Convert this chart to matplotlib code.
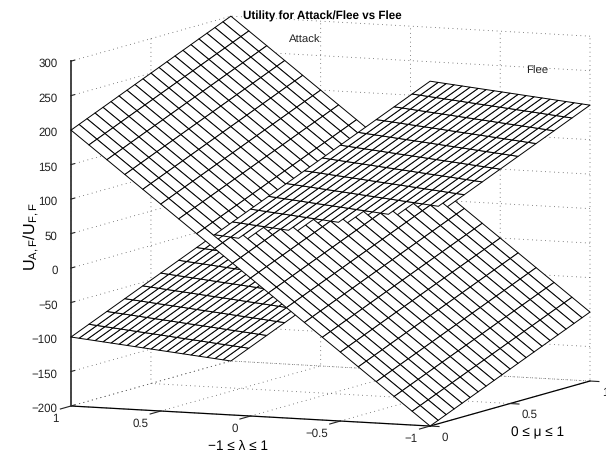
import numpy as np
import matplotlib
matplotlib.use("Agg")
import matplotlib.pyplot as plt
from matplotlib.transforms import Affine2D
from mpl_toolkits.mplot3d import proj3d
from mpl_toolkits.mplot3d.art3d import Poly3DCollection

plt.rcParams['font.family'] = ['Liberation Sans', 'DejaVu Sans']
plt.rcParams['mathtext.fontset'] = 'custom'
plt.rcParams['mathtext.rm'] = 'Liberation Sans'
plt.rcParams['mathtext.default'] = 'regular'
plt.rcParams['text.hinting'] = 'none'

# Data
lam = [-1.0, -0.9, -0.8, -0.7, -0.6, -0.5, -0.4, -0.3, -0.2, -0.1, 0.0,
       0.1, 0.2, 0.3, 0.4, 0.5, 0.6, 0.7, 0.8, 0.9, 1.0]
mu = [0.0, 0.05, 0.1, 0.15, 0.2, 0.25, 0.3, 0.35, 0.4, 0.45, 0.5,
      0.55, 0.6, 0.65, 0.7, 0.75, 0.8, 0.85, 0.9, 0.95, 1.0]
attack_at_mu0 = [-200, -180, -160, -140, -120, -100, -80, -60, -40, -20, 0,
                 20, 40, 60, 80, 100, 120, 140, 160, 180, 200]
attack_rise_mu = [0, 5, 10, 15, 20, 25, 30, 35, 40, 45, 50,
                  55, 60, 65, 70, 75, 80, 85, 90, 95, 100]
flee_at_mu0 = [300, 280, 260, 240, 220, 200, 180, 160, 140, 120, 100,
               80, 60, 40, 20, 0, -20, -40, -60, -80, -100]
flee_rise_mu = [0, -5, -10, -15, -20, -25, -30, -35, -40, -45, -50,
                -55, -60, -65, -70, -75, -80, -85, -90, -95, -100]
x_ticks = [-1, -0.5, 0, 0.5, 1]
x_labels = ['\u22121', '\u22120.5', '0', '0.5', '1']
y_ticks = [0, 0.5, 1]
y_labels = ['0', '0.5', '1']
z_ticks = [-200, -150, -100, -50, 0, 50, 100, 150, 200, 250, 300]
z_labels = ['\u2212200', '\u2212150', '\u2212100', '\u221250', '0', '50',
            '100', '150', '200', '250', '300']


def quads(lams, mus, at_mu0, rise):
    z = np.add.outer(np.asarray(at_mu0, float), np.asarray(rise, float))
    out = []
    for i in range(len(lams) - 1):
        for j in range(len(mus) - 1):
            out.append([(lams[i], mus[j], z[i, j]),
                        (lams[i + 1], mus[j], z[i + 1, j]),
                        (lams[i + 1], mus[j + 1], z[i + 1, j + 1]),
                        (lams[i], mus[j + 1], z[i, j + 1])])
    return out


W, H = 606, 456
fig = plt.figure(figsize=(W / 100, H / 100), dpi=100)
ax = fig.add_axes([0, 0, 1, 1], projection='3d', proj_type='ortho')
ax.view_init(elev=7.2, azim=-66)
aspect = (393, 393, 347.5)

polys = quads(lam, mu, attack_at_mu0, attack_rise_mu) + \
    quads(lam, mu, flee_at_mu0, flee_rise_mu)
mesh = Poly3DCollection(polys, facecolors='white', edgecolors='black',
                        linewidths=0.7, zsort='average')
mesh.set_clip_on(False)
ax.add_collection3d(mesh, autolim=False)

ax.set_xlim(1, -1)
ax.set_ylim(0, 1)
ax.set_zlim(-200, 300)
ax.set_xticks(x_ticks, x_labels)
ax.set_yticks(y_ticks, y_labels)
ax.set_zticks(z_ticks, z_labels)

for axis, inw, outw in ((ax.xaxis, 0.83, 0.0), (ax.yaxis, 0.31, 0.0), (ax.zaxis, 0.0, 0.27)):
    axis.pane.set_visible(False)
    axis._axinfo['grid'].update(color='#333333', linewidth=0.6, linestyle=(0, (0.8, 4.5)))
    axis._axinfo['tick'].update(inward_factor=inw, outward_factor=outw)
    axis._axinfo['axisline']['color'] = 'black'
    axis.line.set_linewidth(0.9)
    axis.line.set_color('black')
    axis.set_rotate_label(False)
ax.zaxis._axinfo['axisline']['color'] = '#444444'
ax.zaxis.line.set_color('#444444')
ax.zaxis.line.set_linewidth(1.4)

ax.tick_params(axis='both', labelsize=8.3, colors='#222222', width=0.8, pad=0)
ax.zaxis.set_ticks_position('lower')
ax.zaxis.set_label_position('lower')

ax.set_xlabel('\u22121 \u2264 \u03bb \u2264 1', fontsize=9.8, labelpad=-8)
ax.set_ylabel('0 \u2264 \u03bc \u2264 1', fontsize=9.8, labelpad=-8)
ax.set_zlabel(r'$U_{A,F}/U_{F,F}$', fontsize=11.6, labelpad=-8, rotation=90)


def nudge(axis, dx, dy, ha=None):
    """Shift an axis' tick labels by a fixed number of pixels."""
    orig = axis.get_major_ticks

    def wrapped(numticks=None):
        ticks = orig(numticks)
        for t in ticks:
            t.label1.set_transform(ax.transData + Affine2D().translate(dx, dy))
            if ha:
                t.label1.set_ha(ha)
        return ticks
    axis.get_major_ticks = wrapped


nudge(ax.xaxis, -5, 12, 'right')
nudge(ax.yaxis, -5, 12, 'left')
nudge(ax.zaxis, 11, 5, 'right')


# Fit the box onto the reference's corner positions
def px(x, y, z):
    X, Y, _ = proj3d.proj_transform(x, y, z, ax.get_proj())
    return ax.transData.transform((X, Y))


zoom = 1.0
ax.set_box_aspect(aspect, zoom=zoom)
fig.canvas.draw()
a, b = px(1, 0, -200), px(-1, 1, -200)
zoom *= 519 / (b[0] - a[0])
ax.set_box_aspect(aspect, zoom=zoom)
fig.canvas.draw()
a = px(1, 0, -200)
dx, dy = 71 - a[0], (H - 407) - a[1]
ax.set_position([dx / W, dy / H, 1, 1])

ax.xaxis.label.set_transform(ax.transData + Affine2D().translate(1.5, -34))
ax.yaxis.label.set_transform(ax.transData + Affine2D().translate(22, -37.5))
ax.zaxis.label.set_transform(ax.transData + Affine2D().translate(-57, -22))

fig.text(322.5 / W, 1 - 16 / H, 'Utility for Attack/Flee vs Flee', fontsize=8.4,
         fontweight='bold', ha='center', va='center', color='black')
fig.text(305 / W, 1 - 40 / H, 'Attack', fontsize=8.2, ha='center', va='center', color='#222222')
fig.text(537.5 / W, 1 - 71 / H, 'Flee', fontsize=8.2, ha='center', va='center', color='#222222')

fig.savefig('out.png', dpi=100)
